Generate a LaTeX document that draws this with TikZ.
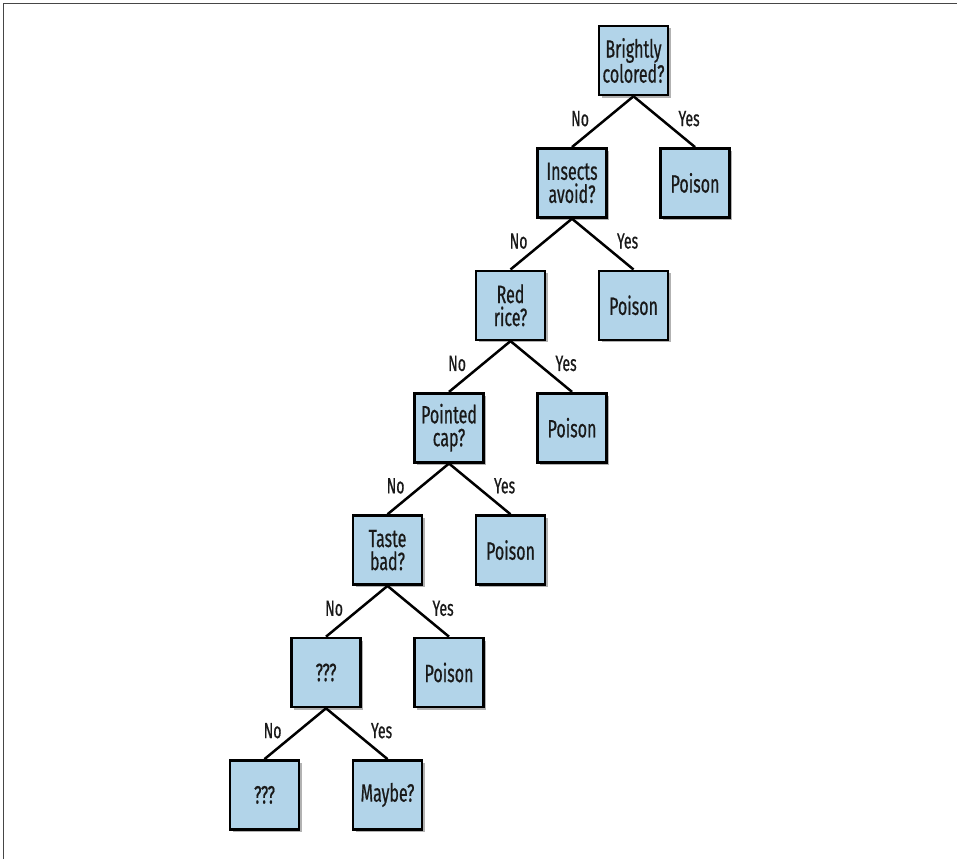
\documentclass[tikz,border=0pt]{standalone}
\usepackage{fontspec}
\newfontfamily\figfont{Fira Sans}[FakeStretch=0.64,FakeBold=0.6]
\usetikzlibrary{shadows}
\definecolor{boxblue}{RGB}{178,212,233}
\definecolor{inkc}{RGB}{25,25,25}
\definecolor{framegray}{RGB}{70,70,70}
\tikzset{
  qbox/.style={draw=black, line width=2.6pt, fill=boxblue, minimum width=69pt, minimum height=69pt,
    inner sep=0pt, align=center, text=inkc,
    font=\figfont\fontsize{25}{23}\selectfont,
    drop shadow={shadow xshift=2.5pt, shadow yshift=-2.5pt, fill=black, opacity=0.3}},
  edge/.style={draw=black, line width=2.5pt},
  nolab/.style={midway, anchor=east, inner sep=0pt, xshift=-12.5pt, yshift=3pt, text=inkc,
    font=\figfont\fontsize{22}{24}\selectfont},
  yeslab/.style={midway, anchor=west, inner sep=0pt, xshift=13pt, yshift=3pt, text=inkc,
    font=\figfont\fontsize{22}{24}\selectfont}
}
\begin{document}
\begin{tikzpicture}[x=1pt, y=-1pt]
\useasboundingbox (0,0) rectangle (957,859);
\draw[framegray, line width=1.4pt] (3.5,859) -- (3.5,3.5) -- (957,3.5);

\node[qbox] (q0) at (633.5,60.5) {Brightly\\colored?};
\node[qbox] (q1) at (572,182.9) {Insects\\avoid?};
\node[qbox] (p1) at (695,182.9) {Poison};
\node[qbox] (q2) at (510.5,305.3) {Red\\rice?};
\node[qbox] (p2) at (633.5,305.3) {Poison};
\node[qbox] (q3) at (449,427.7) {Pointed\\cap?};
\node[qbox] (p3) at (572,427.7) {Poison};
\node[qbox] (q4) at (387.5,550.1) {Taste\\bad?};
\node[qbox] (p4) at (510.5,550.1) {Poison};
\node[qbox] (q5) at (326,672.5) {???};
\node[qbox] (p5) at (449,672.5) {Poison};
\node[qbox] (q6) at (264.5,794.9) {???};
\node[qbox] (m6) at (387.5,794.9) {Maybe?};

\draw[edge] (q0.south) -- node[nolab]{No} (q1.north);
\draw[edge] (q0.south) -- node[yeslab]{Yes} (p1.north);
\draw[edge] (q1.south) -- node[nolab]{No} (q2.north);
\draw[edge] (q1.south) -- node[yeslab]{Yes} (p2.north);
\draw[edge] (q2.south) -- node[nolab]{No} (q3.north);
\draw[edge] (q2.south) -- node[yeslab]{Yes} (p3.north);
\draw[edge] (q3.south) -- node[nolab]{No} (q4.north);
\draw[edge] (q3.south) -- node[yeslab]{Yes} (p4.north);
\draw[edge] (q4.south) -- node[nolab]{No} (q5.north);
\draw[edge] (q4.south) -- node[yeslab]{Yes} (p5.north);
\draw[edge] (q5.south) -- node[nolab]{No} (q6.north);
\draw[edge] (q5.south) -- node[yeslab]{Yes} (m6.north);
\end{tikzpicture}
\end{document}
